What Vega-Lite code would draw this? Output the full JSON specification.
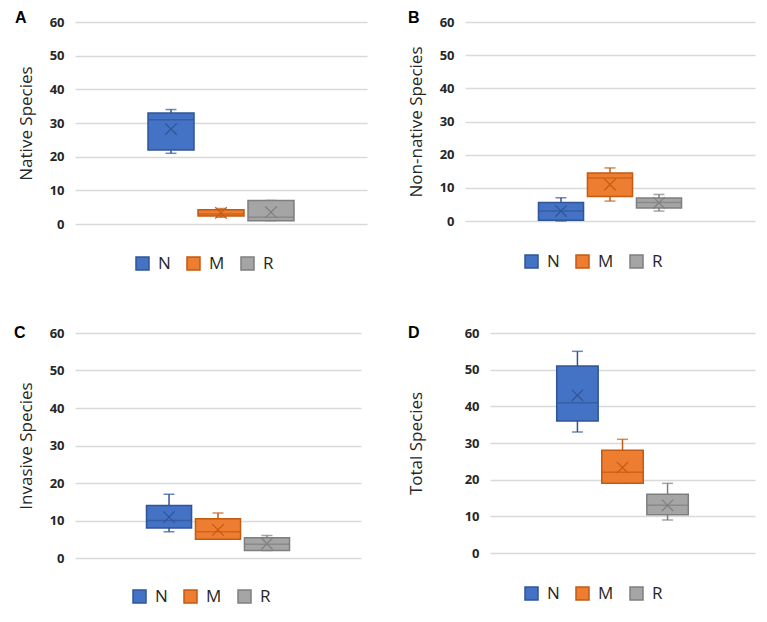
{
  "$schema": "https://vega.github.io/schema/vega-lite/v6.json",
  "background": "white",
  "padding": {"left": 14, "top": 10, "right": 5, "bottom": 5},
  "datasets": {
    "stats": [
      {"panel": "A", "grp": "N", "min": 21, "q1": 22, "median": 31, "q3": 33, "max": 34, "mean": 28.2},
      {"panel": "A", "grp": "M", "min": 2, "q1": 2.4, "median": 3, "q3": 4.2, "max": 4.6, "mean": 3.3},
      {"panel": "A", "grp": "R", "min": 1, "q1": 1, "median": 2, "q3": 7, "max": 7, "mean": 3.5},
      {"panel": "B", "grp": "N", "min": 0, "q1": 0.2, "median": 3, "q3": 5.6, "max": 7, "mean": 3},
      {"panel": "B", "grp": "M", "min": 6, "q1": 7.4, "median": 13, "q3": 14.5, "max": 16, "mean": 11},
      {"panel": "B", "grp": "R", "min": 3, "q1": 3.9, "median": 5.6, "q3": 6.9, "max": 8, "mean": 5.5},
      {"panel": "C", "grp": "N", "min": 7, "q1": 8, "median": 10, "q3": 14, "max": 17, "mean": 10.9},
      {"panel": "C", "grp": "M", "min": 5, "q1": 5, "median": 7, "q3": 10.5, "max": 12, "mean": 7.5},
      {"panel": "C", "grp": "R", "min": 2, "q1": 2, "median": 3.7, "q3": 5.4, "max": 6, "mean": 3.8},
      {"panel": "D", "grp": "N", "min": 33, "q1": 36, "median": 41, "q3": 51, "max": 55, "mean": 43},
      {"panel": "D", "grp": "M", "min": 19, "q1": 19, "median": 22, "q3": 28, "max": 31, "mean": 23.3},
      {"panel": "D", "grp": "R", "min": 9, "q1": 10.4, "median": 13, "q3": 16, "max": 19, "mean": 13}
    ]
  },
  "config": {
    "font": "Open Sans",
    "view": {"stroke": null},
    "axisY": {
      "values": [0, 10, 20, 30, 40, 50, 60],
      "domain": false,
      "ticks": false,
      "gridColor": "#D9D9D9",
      "gridWidth": 1.3,
      "labelFont": "Open Sans",
      "labelFontWeight": "bold",
      "labelFontSize": 13,
      "labelColor": "#262626",
      "labelPadding": 11,
      "titleFont": "Open Sans",
      "titleFontWeight": "normal",
      "titleFontSize": 17,
      "titleColor": "#262626",
      "titlePadding": 14
    },
    "legend": {
      "orient": "none",
      "direction": "horizontal",
      "title": null,
      "symbolType": "square",
      "symbolSize": 169,
      "symbolStrokeWidth": 1.5,
      "labelFontSize": 17,
      "labelColor": "#262626",
      "labelFont": "Open Sans",
      "labelOffset": 7,
      "columnPadding": 13
    },
    "title": {"anchor": "start", "frame": "group", "fontSize": 16, "fontWeight": "bold", "color": "#000000", "font": "Liberation Sans", "baseline": "middle"}
  },
  "resolve": {"scale": {"x": "independent", "y": "independent"}, "legend": {"fill": "independent", "stroke": "independent"}},
  "spacing": 52,
  "vconcat": [
    {
      "spacing": 40,
      "resolve": {"scale": {"x": "independent", "y": "independent"}, "legend": {"fill": "independent", "stroke": "independent"}},
      "hconcat": [
        {
          "width": 292, "height": 202,
          "title": {"text": "A", "dx": -60, "offset": -10},
          "data": {"name": "stats"},
          "transform": [{"filter": "datum.panel === 'A'"}],
          "encoding": {
            "x": {"field": "grp", "type": "nominal", "axis": null, "scale": {"domain": ["_l", "N", "M", "R", "_r"], "paddingInner": 0.08, "paddingOuter": 0.46}}
          },
          "layer": [
            {"mark": {"type": "rule", "strokeWidth": 1.5}, "encoding": {"y": {"field": "min", "type": "quantitative", "scale": {"domain": [0, 60]}, "title": "Native Species"}, "y2": {"field": "max"}, "stroke": {"field": "grp", "type": "nominal", "scale": {"domain": ["N", "M", "R"], "range": ["#2F5597", "#C55A11", "#7F7F7F"]}, "legend": {"legendX": 59, "legendY": 233}}}},
            {"mark": {"type": "tick", "thickness": 1.5, "size": 11}, "encoding": {"y": {"field": "max", "type": "quantitative"}, "color": {"field": "grp", "type": "nominal", "scale": {"domain": ["N", "M", "R"], "range": ["#2F5597", "#C55A11", "#7F7F7F"]}, "legend": null}}},
            {"mark": {"type": "tick", "thickness": 1.5, "size": 11}, "encoding": {"y": {"field": "min", "type": "quantitative"}, "color": {"field": "grp", "type": "nominal", "scale": {"domain": ["N", "M", "R"], "range": ["#2F5597", "#C55A11", "#7F7F7F"]}, "legend": null}}},
            {"mark": {"type": "bar", "strokeWidth": 1.5}, "encoding": {"y": {"field": "q1", "type": "quantitative"}, "y2": {"field": "q3"}, "fill": {"field": "grp", "type": "nominal", "scale": {"domain": ["N", "M", "R"], "range": ["#4472C4", "#ED7D31", "#A5A5A5"]}, "legend": {"legendX": 59, "legendY": 233}}, "stroke": {"field": "grp", "type": "nominal"}}},
            {"mark": {"type": "tick", "thickness": 1.5}, "encoding": {"y": {"field": "median", "type": "quantitative"}, "color": {"field": "grp", "type": "nominal", "scale": {"domain": ["N", "M", "R"], "range": ["#2F5597", "#C55A11", "#7F7F7F"]}, "legend": null}}},
            {"mark": {"type": "point", "shape": "M-1,-1L1,1M1,-1L-1,1", "filled": false, "size": 130, "strokeWidth": 1.2, "opacity": 1}, "encoding": {"y": {"field": "mean", "type": "quantitative"}, "color": {"field": "grp", "type": "nominal", "scale": {"domain": ["N", "M", "R"], "range": ["#2F5597", "#C55A11", "#7F7F7F"]}, "legend": null}}}
          ]
        },
        {
          "width": 290, "height": 199,
          "title": {"text": "B", "dx": -57, "offset": -10},
          "data": {"name": "stats"},
          "transform": [{"filter": "datum.panel === 'B'"}],
          "encoding": {
            "x": {"field": "grp", "type": "nominal", "axis": null, "scale": {"domain": ["_l", "N", "M", "R", "_r"], "paddingInner": 0.08, "paddingOuter": 0.5}}
          },
          "layer": [
            {"mark": {"type": "rule", "strokeWidth": 1.5}, "encoding": {"y": {"field": "min", "type": "quantitative", "scale": {"domain": [0, 60]}, "title": "Non-native Species"}, "y2": {"field": "max"}, "stroke": {"field": "grp", "type": "nominal", "scale": {"domain": ["N", "M", "R"], "range": ["#2F5597", "#C55A11", "#7F7F7F"]}, "legend": {"legendX": 58, "legendY": 231}}}},
            {"mark": {"type": "tick", "thickness": 1.5, "size": 11}, "encoding": {"y": {"field": "max", "type": "quantitative"}, "color": {"field": "grp", "type": "nominal", "scale": {"domain": ["N", "M", "R"], "range": ["#2F5597", "#C55A11", "#7F7F7F"]}, "legend": null}}},
            {"mark": {"type": "tick", "thickness": 1.5, "size": 11}, "encoding": {"y": {"field": "min", "type": "quantitative"}, "color": {"field": "grp", "type": "nominal", "scale": {"domain": ["N", "M", "R"], "range": ["#2F5597", "#C55A11", "#7F7F7F"]}, "legend": null}}},
            {"mark": {"type": "bar", "strokeWidth": 1.5}, "encoding": {"y": {"field": "q1", "type": "quantitative"}, "y2": {"field": "q3"}, "fill": {"field": "grp", "type": "nominal", "scale": {"domain": ["N", "M", "R"], "range": ["#4472C4", "#ED7D31", "#A5A5A5"]}, "legend": {"legendX": 58, "legendY": 231}}, "stroke": {"field": "grp", "type": "nominal"}}},
            {"mark": {"type": "tick", "thickness": 1.5}, "encoding": {"y": {"field": "median", "type": "quantitative"}, "color": {"field": "grp", "type": "nominal", "scale": {"domain": ["N", "M", "R"], "range": ["#2F5597", "#C55A11", "#7F7F7F"]}, "legend": null}}},
            {"mark": {"type": "point", "shape": "M-1,-1L1,1M1,-1L-1,1", "filled": false, "size": 130, "strokeWidth": 1.2, "opacity": 1}, "encoding": {"y": {"field": "mean", "type": "quantitative"}, "color": {"field": "grp", "type": "nominal", "scale": {"domain": ["N", "M", "R"], "range": ["#2F5597", "#C55A11", "#7F7F7F"]}, "legend": null}}}
          ]
        }
      ]
    },
    {
      "spacing": 46,
      "resolve": {"scale": {"x": "independent", "y": "independent"}, "legend": {"fill": "independent", "stroke": "independent"}},
      "hconcat": [
        {
          "width": 286, "height": 225,
          "title": {"text": "C", "dx": -61, "offset": -14},
          "data": {"name": "stats"},
          "transform": [{"filter": "datum.panel === 'C'"}],
          "encoding": {
            "x": {"field": "grp", "type": "nominal", "axis": null, "scale": {"domain": ["_l", "N", "M", "R", "_r"], "paddingInner": 0.08, "paddingOuter": 0.46}}
          },
          "layer": [
            {"mark": {"type": "rule", "strokeWidth": 1.5}, "encoding": {"y": {"field": "min", "type": "quantitative", "scale": {"domain": [0, 60]}, "title": "Invasive Species"}, "y2": {"field": "max"}, "stroke": {"field": "grp", "type": "nominal", "scale": {"domain": ["N", "M", "R"], "range": ["#2F5597", "#C55A11", "#7F7F7F"]}, "legend": {"legendX": 56, "legendY": 255}}}},
            {"mark": {"type": "tick", "thickness": 1.5, "size": 11}, "encoding": {"y": {"field": "max", "type": "quantitative"}, "color": {"field": "grp", "type": "nominal", "scale": {"domain": ["N", "M", "R"], "range": ["#2F5597", "#C55A11", "#7F7F7F"]}, "legend": null}}},
            {"mark": {"type": "tick", "thickness": 1.5, "size": 11}, "encoding": {"y": {"field": "min", "type": "quantitative"}, "color": {"field": "grp", "type": "nominal", "scale": {"domain": ["N", "M", "R"], "range": ["#2F5597", "#C55A11", "#7F7F7F"]}, "legend": null}}},
            {"mark": {"type": "bar", "strokeWidth": 1.5}, "encoding": {"y": {"field": "q1", "type": "quantitative"}, "y2": {"field": "q3"}, "fill": {"field": "grp", "type": "nominal", "scale": {"domain": ["N", "M", "R"], "range": ["#4472C4", "#ED7D31", "#A5A5A5"]}, "legend": {"legendX": 56, "legendY": 255}}, "stroke": {"field": "grp", "type": "nominal"}}},
            {"mark": {"type": "tick", "thickness": 1.5}, "encoding": {"y": {"field": "median", "type": "quantitative"}, "color": {"field": "grp", "type": "nominal", "scale": {"domain": ["N", "M", "R"], "range": ["#2F5597", "#C55A11", "#7F7F7F"]}, "legend": null}}},
            {"mark": {"type": "point", "shape": "M-1,-1L1,1M1,-1L-1,1", "filled": false, "size": 130, "strokeWidth": 1.2, "opacity": 1}, "encoding": {"y": {"field": "mean", "type": "quantitative"}, "color": {"field": "grp", "type": "nominal", "scale": {"domain": ["N", "M", "R"], "range": ["#2F5597", "#C55A11", "#7F7F7F"]}, "legend": null}}}
          ]
        },
        {
          "width": 265, "height": 220,
          "title": {"text": "D", "dx": -82, "offset": -14},
          "data": {"name": "stats"},
          "transform": [{"filter": "datum.panel === 'D'"}],
          "encoding": {
            "x": {"field": "grp", "type": "nominal", "axis": null, "scale": {"domain": ["_l", "N", "M", "R", "_r"], "paddingInner": 0.08, "paddingOuter": 0.48}}
          },
          "layer": [
            {"mark": {"type": "rule", "strokeWidth": 1.5}, "encoding": {"y": {"field": "min", "type": "quantitative", "scale": {"domain": [0, 60]}, "title": "Total Species", "axis": {"titlePadding": 39}}, "y2": {"field": "max"}, "stroke": {"field": "grp", "type": "nominal", "scale": {"domain": ["N", "M", "R"], "range": ["#2F5597", "#C55A11", "#7F7F7F"]}, "legend": {"legendX": 33, "legendY": 252}}}},
            {"mark": {"type": "tick", "thickness": 1.5, "size": 11}, "encoding": {"y": {"field": "max", "type": "quantitative"}, "color": {"field": "grp", "type": "nominal", "scale": {"domain": ["N", "M", "R"], "range": ["#2F5597", "#C55A11", "#7F7F7F"]}, "legend": null}}},
            {"mark": {"type": "tick", "thickness": 1.5, "size": 11}, "encoding": {"y": {"field": "min", "type": "quantitative"}, "color": {"field": "grp", "type": "nominal", "scale": {"domain": ["N", "M", "R"], "range": ["#2F5597", "#C55A11", "#7F7F7F"]}, "legend": null}}},
            {"mark": {"type": "bar", "strokeWidth": 1.5}, "encoding": {"y": {"field": "q1", "type": "quantitative"}, "y2": {"field": "q3"}, "fill": {"field": "grp", "type": "nominal", "scale": {"domain": ["N", "M", "R"], "range": ["#4472C4", "#ED7D31", "#A5A5A5"]}, "legend": {"legendX": 33, "legendY": 252}}, "stroke": {"field": "grp", "type": "nominal"}}},
            {"mark": {"type": "tick", "thickness": 1.5}, "encoding": {"y": {"field": "median", "type": "quantitative"}, "color": {"field": "grp", "type": "nominal", "scale": {"domain": ["N", "M", "R"], "range": ["#2F5597", "#C55A11", "#7F7F7F"]}, "legend": null}}},
            {"mark": {"type": "point", "shape": "M-1,-1L1,1M1,-1L-1,1", "filled": false, "size": 130, "strokeWidth": 1.2, "opacity": 1}, "encoding": {"y": {"field": "mean", "type": "quantitative"}, "color": {"field": "grp", "type": "nominal", "scale": {"domain": ["N", "M", "R"], "range": ["#2F5597", "#C55A11", "#7F7F7F"]}, "legend": null}}}
          ]
        }
      ]
    }
  ]
}
